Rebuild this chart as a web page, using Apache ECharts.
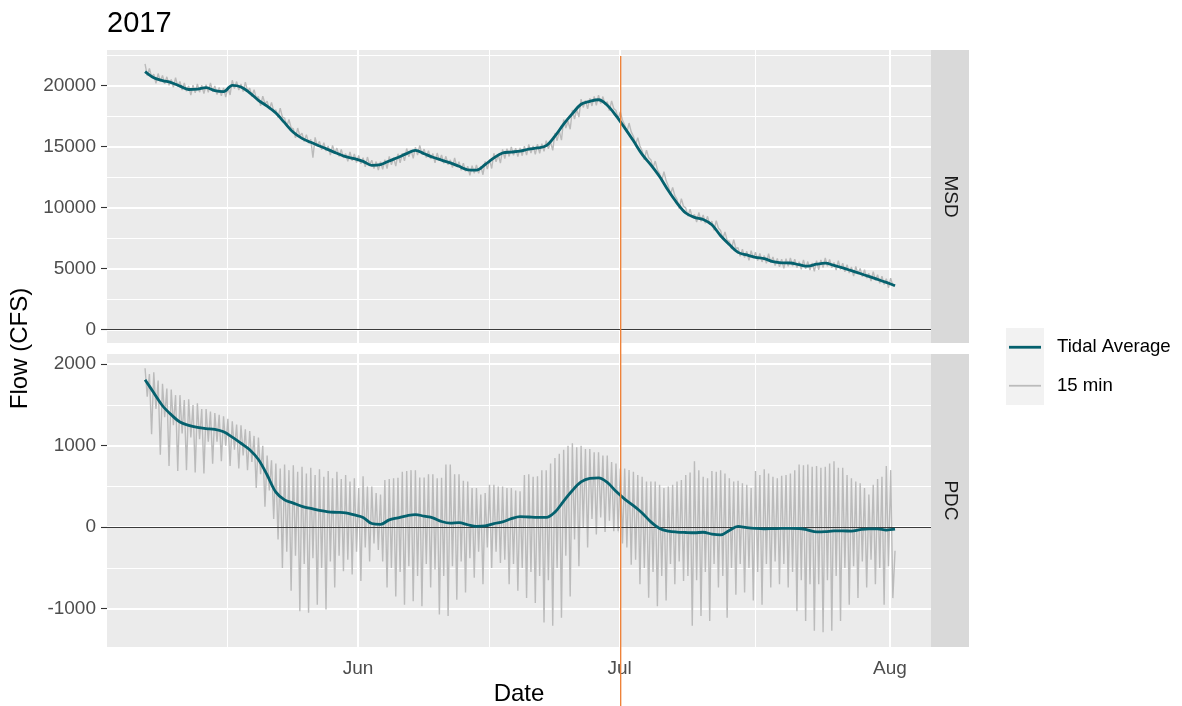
<!DOCTYPE html>
<html>
<head>
<meta charset="utf-8">
<title>2017 Flow</title>
<script src="https://cdn.jsdelivr.net/npm/echarts@6/dist/echarts.min.js"></script>
<style>
  html, body { margin: 0; padding: 0; background: #ffffff; }
  #chart { width: 1182px; height: 706px; }
</style>
</head>
<body>
<div id="chart"></div>
<script>
// ---- labels ----
const chartTitle = '2017';
const panelNames = ['MSD', 'PDC'];
const legendNames = ['Tidal Average', '15 min'];
const xTitle = 'Date';
const yTitle = 'Flow (CFS)';

// ---- axis breaks ----
const monthBreaks = ['2017-06-01T00:00Z', '2017-07-01T00:00Z', '2017-08-01T00:00Z'];
const monthLabels = ['Jun', 'Jul', 'Aug'];
const monthMinor = ['2017-05-17T00:00Z', '2017-06-16T00:00Z', '2017-07-16T12:00Z'];
const msdTicks = [0, 5000, 10000, 15000, 20000];
const msdMinor = [2500, 7500, 12500, 17500, 22500];
const pdcTicks = [-1000, 0, 1000, 2000];
const pdcMinor = [-500, 500, 1500];
const markerDate = '2017-07-01T03:00Z';

// ---- data: tidal (daily) averages, first value at avgStart ----
const avgStart = '2017-05-07T14:00Z';
const msdAvg = [
  21150, 20650, 20420, 20260, 19970, 19690, 19730, 19840, 19600, 19520,
  20030, 19900, 19420, 18800, 18320, 17760, 16970, 16180, 15680, 15360,
  15060, 14760, 14460, 14180, 14020, 13800, 13470, 13530, 13830, 14120,
  14430, 14700, 14420, 14130, 13900, 13670, 13390, 13100, 13080, 13540,
  14080, 14480, 14560, 14640, 14800, 14900, 15080, 15870, 16850, 17710,
  18480, 18720, 18850, 18400, 17550, 16540, 15480, 14370, 13510, 12550,
  11400, 10380, 9560, 9200, 9030, 8590, 7700, 6980, 6330, 6120,
  5930, 5820, 5570, 5470, 5460, 5320, 5200, 5360, 5450, 5260,
  5060, 4830, 4600, 4360, 4120, 3870, 3600
];
const pdcAvg = [
  1810, 1650, 1490, 1380, 1290, 1250, 1225, 1210, 1200, 1170,
  1105, 1030, 950, 830, 640, 430, 335, 295, 255, 230,
  205, 188, 182, 176, 150, 120, 45, 35, 90, 115,
  140, 155, 135, 115, 70, 50, 55, 30, 10, 15,
  45, 65, 105, 130, 125, 120, 120, 185, 320, 450,
  555, 600, 605, 550, 440, 345, 265, 175, 65, -15,
  -48, -60, -65, -68, -62, -85, -95, -40, 10, -5,
  -15, -20, -18, -15, -15, -16, -35, -58, -55, -45,
  -45, -48, -30, -20, -20, -35, -25
];

// ---- data: 6-hourly samples of the 15 min record, first value at rawStart ----
const rawStart = '2017-05-07T14:00Z';
const msd15 = [
  21800, 20830, 21410, 20730,  20950, 20200, 21000, 20370,  20840, 20160, 20730, 20040,
  20510, 19880, 20660, 19930,  20350, 19650, 20230, 19550,  19990, 19240, 20040, 19410,
  20150, 19470, 20040, 19350,  20090, 19460, 20240, 19510,  19980, 19280, 19860, 19180,
  19820, 19070, 19870, 19240,  20450, 19770, 20340, 19650,  20150, 19520, 20300, 19570,
  19800, 19100, 19680, 19000,  19100, 18350, 19150, 18520,  18740, 18060, 18630, 17940,
  18010, 17380, 18160, 17430,  17350, 16650, 17230, 16550,  16480, 15730, 16530, 15900,
  16100, 15420, 15990, 15300,  15610, 14100, 15760, 15030,  15440, 14740, 15320, 14640,
  15060, 14310, 15110, 14480,  14880, 14200, 14770, 14080,  14430, 13800, 14580, 13850,
  14400, 13700, 14280, 13600,  14100, 13350, 14150, 13520,  13890, 13210, 13780, 13090,
  13780, 13150, 13930, 13200,  14210, 13510, 14090, 13410,  14420, 13670, 14470, 13840,
  14850, 14170, 14740, 14050,  14950, 14320, 15100, 14370,  14800, 14100, 14680, 14000,
  14430, 13680, 14480, 13850,  14320, 13640, 14210, 13520,  13920, 13290, 14070, 13340,
  13770, 13070, 13650, 12970,  13400, 12650, 13450, 12820,  13500, 12820, 13390, 12700,
  13790, 13160, 13940, 13210,  14460, 13760, 14340, 13660,  14780, 14030, 14830, 14200,
  14980, 14300, 14870, 14180,  14890, 14260, 15040, 14310,  15180, 14480, 15060, 14380,
  15200, 14450, 15250, 14620,  15500, 14820, 15390, 14700,  16120, 15490, 16270, 15540,
  17230, 16530, 17110, 16430,  18010, 17260, 18060, 17430,  18900, 18220, 18790, 18100,
  18970, 18340, 19120, 18390,  19230, 18530, 19110, 18430,  18700, 17950, 18750, 18120,
  17970, 17290, 17860, 17170,  16790, 16160, 16940, 16210,  15860, 15160, 15740, 15060,
  14670, 13920, 14720, 14090,  13930, 13250, 13820, 13130,  12800, 12170, 12950, 12220,
  11780, 11080, 11660, 10980,  10680, 9930, 10730, 10100,  9980, 9300, 9870, 9180,
  9450, 8820, 9600, 8870,  9410, 8710, 9290, 8610,  8890, 8140, 8940, 8310,
  8120, 7440, 8010, 7320,  7230, 6600, 7380, 6650,  6710, 6010, 6590, 5910,
  6420, 5670, 6470, 5840,  6350, 5670, 6240, 5550,  6070, 5440, 6220, 5490,
  5950, 5250, 5830, 5150,  5770, 5020, 5820, 5190,  5880, 5200, 5770, 5080,
  5570, 4940, 5720, 4990,  5580, 4880, 5460, 4780,  5660, 4910, 5710, 5080,
  5870, 5190, 5760, 5070,  5510, 4880, 5660, 4930,  5440, 4740, 5320, 4640,
  5130, 4380, 5180, 4550,  5020, 4340, 4910, 4220,  4610, 3980, 4760, 4030,
  4500, 3800, 4380, 3700,  4170, 3420, 4220, 3590,  3700
];
const pdc15 = [
  1950, 1600, 1880, 1140,  1900, 1450, 1800, 890,  1760, 1350, 1700, 750,
  1690, 1250, 1620, 690,  1620, 1150, 1560, 700,  1570, 1100, 1500, 670,
  1520, 1080, 1450, 660,  1450, 1050, 1420, 780,  1400, 1050, 1380, 810,
  1360, 1000, 1330, 750,  1300, 950, 1260, 720,  1250, 880, 1200, 700,
  1180, 800, 1120, 480,  1100, 650, 1000, 250,  880, 450, 820, 100,
  780, -150, 720, -500,  770, -300, 700, -780,  760, -350, 680, -1030,
  740, -450, 660, -1050,  730, -380, 640, -950,  710, -500, 620, -1010,
  690, -420, 600, -740,  680, -350, 590, -540,  640, -400, 560, -580,
  600, -300, 480, -660,  625, -250, 500, -420,  500, -200, 420, -280,
  400, -420, 580, -740,  590, -500, 600, -850,  605, -550, 680, -950,
  690, -480, 700, -910,  700, -600, 610, -970,  610, -450, 650, -740,
  650, -520, 600, -1070,  605, -600, 770, -1090,  770, -480, 650, -890,
  650, -420, 570, -800,  560, -380, 480, -620,  480, -300, 400, -700,
  420, -250, 520, -500,  520, -300, 500, -440,  500, -400, 480, -700,
  480, -450, 450, -780,  440, -500, 640, -870,  650, -550, 620, -930,
  625, -600, 700, -1170,  700, -650, 780, -1210,  850, -500, 900, -1110,
  950, -350, 1000, -850,  1030, -150, 980, -480,  1000, 0, 960, -250,
  960, 100, 920, -90,  920, 120, 880, -60,  880, 80, 800, -50,
  780, -50, 720, -200,  720, -250, 700, -460,  680, -400, 640, -700,
  620, -500, 560, -865,  560, -550, 560, -970,  520, -600, 480, -900,
  500, -450, 520, -700,  560, -420, 580, -660,  640, -600, 670, -1210,
  810, -650, 700, -1090,  620, -550, 600, -1150,  690, -450, 680, -740,
  700, -600, 660, -1110,  600, -500, 560, -830,  570, -450, 540, -800,
  520, -500, 480, -900,  690, -550, 640, -950,  710, -450, 660, -740,
  620, -420, 600, -700,  630, -450, 640, -740,  660, -550, 700, -1030,
  770, -650, 760, -1150,  770, -700, 740, -1270,  750, -700, 730, -1290,
  740, -650, 780, -1270,  810, -600, 730, -1150,  730, -500, 640, -950,
  600, -480, 560, -870,  540, -420, 480, -740,  400, -400, 520, -700,
  590, -500, 620, -950,  750, -480, 700, -870,  -290
];

// ---- styling ----
const FONT = '"Liberation Sans", Arial, sans-serif';
const TEAL = '#05616E';
const GREY = '#BBBBBB';
const PANEL_BG = '#EBEBEB';
const STRIP_BG = '#D9D9D9';
const ORANGE = '#EE7D31';

const HOUR = 3600 * 1000;
const DAY = 24 * HOUR;
const ts = s => Date.parse(s);
const xMin = ts('2017-05-03T05:16Z');
const xMax = ts('2017-08-05T17:00Z');
const monthTs = monthBreaks.map(ts);
const monthMinorTs = monthMinor.map(ts);

const toSeries = (arr, start, step) => arr.map((v, i) => [ts(start) + i * step, v]);

const grids = [
  { left: 107, top: 50, width: 824, height: 293 },
  { left: 107, top: 354, width: 824, height: 293 }
];

function gridLines(yMajor, yMinor) {
  const major = { color: '#FFFFFF', width: 2, type: 'solid' };
  const minor = { color: '#FFFFFF', width: 1, type: 'solid' };
  return [
    ...yMinor.map(v => ({ yAxis: v, lineStyle: minor })),
    ...monthMinorTs.map(v => ({ xAxis: v, lineStyle: minor })),
    ...yMajor.map(v => ({ yAxis: v, lineStyle: major })),
    ...monthTs.map(v => ({ xAxis: v, lineStyle: major }))
  ];
}

// x runs on epoch milliseconds; month breaks are labelled by name
function xAxisFor(gi, showLabels) {
  return {
    type: 'value', gridIndex: gi, min: xMin, max: xMax, scale: true,
    axisLine: { show: false },
    splitLine: { show: false },
    axisTick: {
      show: showLabels, length: 6, customValues: monthTs,
      lineStyle: { color: '#333333', width: 1.1 }
    },
    axisLabel: {
      show: showLabels, customValues: monthTs, margin: 12,
      color: '#4D4D4D', fontSize: 19, fontFamily: FONT,
      formatter: v => {
        let best = 0;
        monthTs.forEach((m, i) => { if (Math.abs(m - v) < Math.abs(monthTs[best] - v)) best = i; });
        return monthLabels[best];
      }
    },
    name: showLabels ? xTitle : '',
    nameLocation: 'middle', nameGap: 35,
    nameTextStyle: { color: '#000000', fontSize: 24, fontFamily: FONT }
  };
}

function yAxisFor(gi, min, max, ticks) {
  return {
    type: 'value', gridIndex: gi, min: min, max: max,
    axisLine: { show: false },
    splitLine: { show: false },
    axisTick: {
      show: true, length: 6, customValues: ticks,
      lineStyle: { color: '#333333', width: 1.1 }
    },
    axisLabel: {
      show: true, customValues: ticks, margin: 11,
      color: '#4D4D4D', fontSize: 19, fontFamily: FONT,
      formatter: v => String(v)
    }
  };
}

function panelSeries(gi, raw, avg, yMajor, yMinor) {
  return [
    {
      type: 'line', xAxisIndex: gi, yAxisIndex: gi, z: 2,
      name: legendNames[1],
      data: toSeries(raw, rawStart, 6 * HOUR),
      showSymbol: false, symbol: 'none',
      lineStyle: { color: GREY, width: 1.4 },
      silent: true,
      markLine: {
        z: 1, silent: true, symbol: ['none', 'none'],
        label: { show: false }, emphasis: { disabled: true },
        animation: false,
        data: gridLines(yMajor, yMinor)
      }
    },
    {
      type: 'line', xAxisIndex: gi, yAxisIndex: gi, z: 4,
      name: legendNames[0],
      data: toSeries(avg, avgStart, DAY),
      showSymbol: false, symbol: 'none', smooth: 0.35,
      lineStyle: { color: TEAL, width: 2.8 },
      silent: true,
      markLine: {
        z: 3, silent: true, symbol: ['none', 'none'],
        label: { show: false }, emphasis: { disabled: true },
        animation: false,
        data: [{ yAxis: 0, lineStyle: { color: '#3A3A3A', width: 1.1, type: 'solid' } }]
      }
    }
  ];
}

const chart = echarts.init(document.getElementById('chart'), null, { renderer: 'canvas' });

const option = {
  animation: false,
  backgroundColor: '#FFFFFF',
  title: {
    text: chartTitle, left: 107, top: 9, padding: 0,
    textStyle: { color: '#000000', fontSize: 29, fontWeight: 'normal', fontFamily: FONT }
  },
  grid: grids.map(g => Object.assign({
    show: true, backgroundColor: PANEL_BG, borderWidth: 0, containLabel: false, outerBoundsMode: 'none'
  }, g)),
  xAxis: [xAxisFor(0, false), xAxisFor(1, true)],
  yAxis: [
    yAxisFor(0, -1100, 22930, msdTicks),
    yAxisFor(1, -1470, 2125, pdcTicks)
  ],
  series: [
    ...panelSeries(0, msd15, msdAvg, msdTicks, msdMinor),
    ...panelSeries(1, pdc15, pdcAvg, pdcTicks, pdcMinor)
  ]
};
chart.setOption(option);

// facet strips, legend, y title and the reference date line
const stripX = 931, stripW = 38;
const graphics = [];
grids.forEach((g, i) => {
  graphics.push({
    type: 'rect', silent: true,
    shape: { x: stripX, y: g.top, width: stripW, height: g.height },
    style: { fill: STRIP_BG }
  });
  graphics.push({
    type: 'text', silent: true,
    x: stripX + stripW / 2, y: g.top + g.height / 2, rotation: -Math.PI / 2,
    style: { text: panelNames[i], align: 'center', verticalAlign: 'middle',
             fontSize: 19, fontFamily: FONT, fill: '#1A1A1A' }
  });
});
graphics.push({
  type: 'text', silent: true, x: 20, y: (grids[0].top + grids[1].top + grids[1].height) / 2,
  rotation: Math.PI / 2,
  style: { text: yTitle, align: 'center', verticalAlign: 'middle',
           fontSize: 24, fontFamily: FONT, fill: '#000000' }
});
// legend
const legX = 1006, legY = 328, keyH = 38.5;
graphics.push({
  type: 'rect', silent: true,
  shape: { x: legX, y: legY, width: 38, height: keyH * 2 },
  style: { fill: '#F2F2F2' }
});
[[TEAL, 2.8], [GREY, 1.8]].forEach((st, i) => {
  const cy = legY + keyH * i + keyH / 2;
  graphics.push({
    type: 'line', silent: true,
    shape: { x1: legX + 3, y1: cy, x2: legX + 35, y2: cy },
    style: { stroke: st[0], lineWidth: st[1] }
  });
  graphics.push({
    type: 'text', silent: true, x: legX + 51, y: cy,
    style: { text: legendNames[i], align: 'left', verticalAlign: 'middle',
             fontSize: 18.6, fontFamily: FONT, fill: '#000000' }
  });
});
// vertical reference line
const mx = chart.convertToPixel({ xAxisIndex: 1 }, ts(markerDate));
graphics.push({
  type: 'line', silent: true, z: 100,
  shape: { x1: mx, y1: 56, x2: mx, y2: 706 },
  style: { stroke: ORANGE, lineWidth: 1.3 }
});
chart.setOption({ graphic: graphics });
</script>
</body>
</html>
